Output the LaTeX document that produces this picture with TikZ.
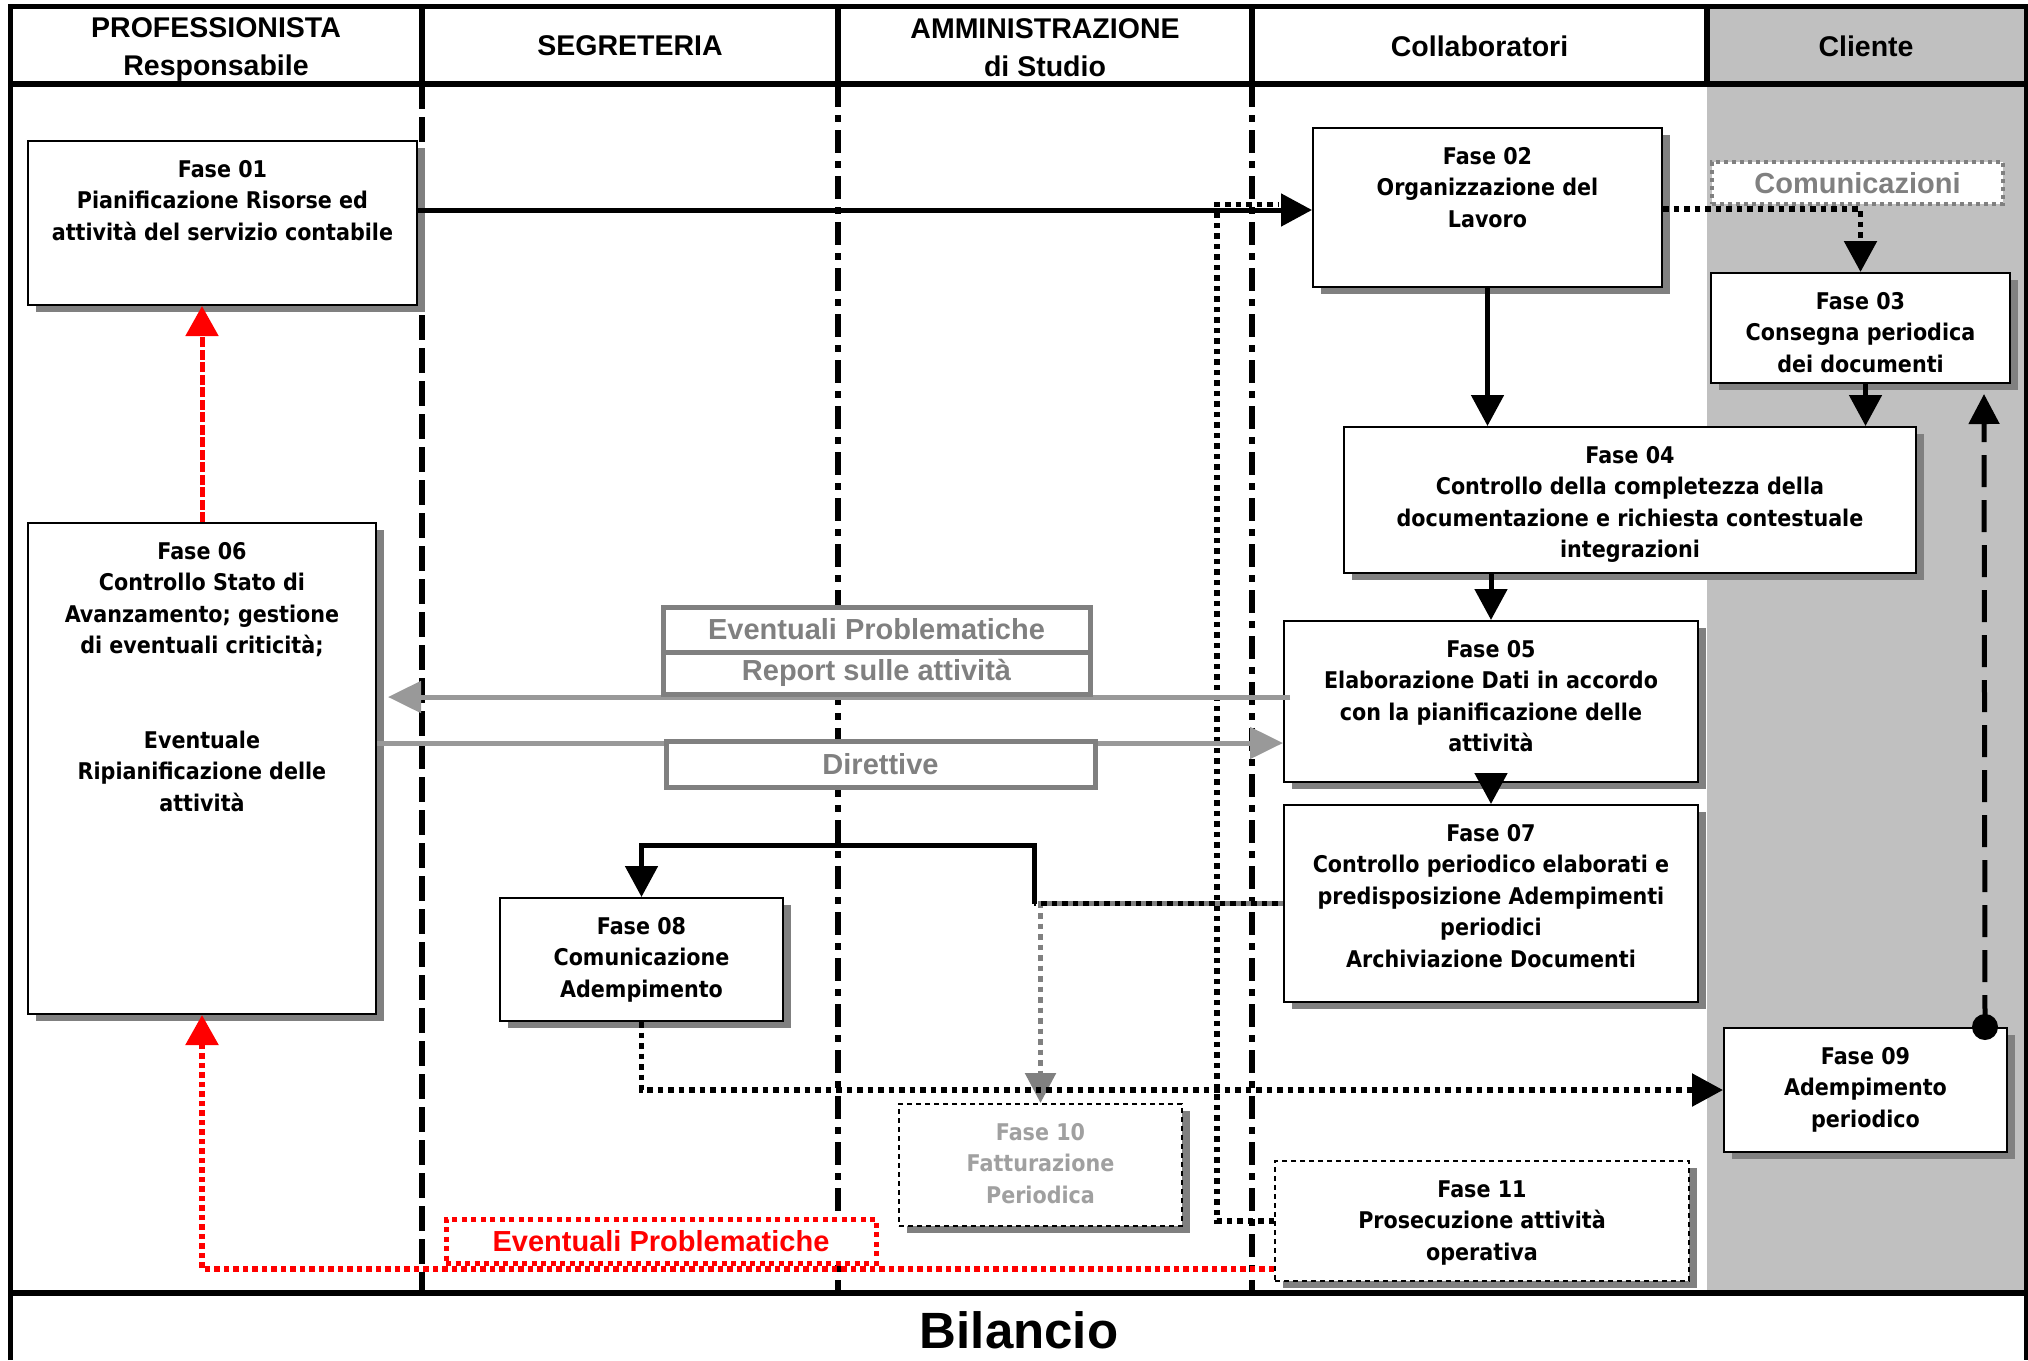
\documentclass[tikz,border=0pt]{standalone}
\usepackage{fontspec}
\setmainfont{Liberation Sans}
\IfFontExistsTF{DejaVu Sans Condensed Bold}
  {\newfontfamily\phasefont{DejaVu Sans Condensed Bold}}
  {\newfontfamily\phasefont[FakeStretch=0.9]{DejaVu Sans Bold}}
\usetikzlibrary{arrows.meta,calc,shadows}

\definecolor{shadowgray}{HTML}{808080}
\definecolor{clientgray}{HTML}{C0C0C0}
\definecolor{notegray}{HTML}{808080}
\definecolor{flowgray}{HTML}{999999}
\definecolor{fadedtext}{HTML}{A0A0A0}
\definecolor{alertred}{HTML}{FF0000}

% text of a phase box: fixed width and height, lines hanging from the top edge
\newcommand\phasetext[3]{\parbox[c][#2pt][t]{#1pt}{\centering\phasefont\fontsize{23}{31.5}\selectfont\rule{0pt}{36pt}#3}}

\begin{document}
\begin{tikzpicture}[x=1pt,y=-1pt,
  phase/.style={draw=black,line width=2pt,fill=white,inner sep=0pt,
    drop shadow={shadow xshift=8pt,shadow yshift=-7pt,fill=shadowgray,opacity=1}},
  dashphase/.style={phase,dash pattern=on 5pt off 4pt},
  lanehead/.style={font=\bfseries\fontsize{28.5}{38}\selectfont,align=center,inner sep=0pt},
  laneline/.style={line width=6pt},
  lanedash/.style={line width=6pt,dash pattern=on 25pt off 8pt},
  lanedashdot/.style={line width=6pt,dash pattern=on 23pt off 8pt on 7pt off 8pt},
  frame/.style={line width=5pt},
  tip/.style={-{Triangle[length=31pt,width=32pt]}},
  flow/.style={line width=5pt},
  dotflow/.style={line width=5.5pt,dash pattern=on 5.5pt off 5pt},
  grayflow/.style={line width=5pt,draw=flowgray,-{Triangle[length=33pt,width=31pt]}},
  graydots/.style={line width=5.5pt,draw=shadowgray,dash pattern=on 5.5pt off 5pt},
  returnflow/.style={line width=5pt,dash pattern=on 32pt off 13pt,-{Triangle[length=30pt,width=30pt]}},
  redflow/.style={line width=5pt,draw=alertred,dash pattern=on 10pt off 2.5pt,-{Triangle[length=30pt,width=32pt]}},
  reddots/.style={line width=5.5pt,draw=alertred,dash pattern=on 5.5pt off 4pt,-{Triangle[length=30pt,width=32pt]}},
  notebox/.style={draw=notegray,line width=5pt,fill=white,text=notegray,inner sep=0pt,
    font=\bfseries\fontsize{29}{34}\selectfont},
  dotnote/.style={notebox,line width=4pt,dash pattern=on 4pt off 4pt},
  rednote/.style={notebox,draw=alertred,text=alertred,dash pattern=on 5pt off 4.5pt},
  title/.style={font=\bfseries\fontsize{51}{51}\selectfont,inner sep=0pt}
]
\useasboundingbox (0,0) rectangle (2028,1360);
\fill[white] (0,0) rectangle (2028,1360);

% client lane background
\fill[clientgray] (1707,6.5) rectangle (2026,1293);

% lane separators: solid in the header, broken in the body
\draw[laneline] (422,6.5) -- (422,84);
\draw[laneline] (838,6.5) -- (838,84);
\draw[laneline] (1252,6.5) -- (1252,84);
\draw[laneline] (1707,6.5) -- (1707,84);
\draw[lanedash] (422,84) -- (422,1293);
\draw[lanedashdot] (838,84) -- (838,1293);
\draw[lanedashdot] (1252,84) -- (1252,1293);

% outer frame, header rule and footer rule
\draw[frame] (10,1360) -- (10,6.5) -- (2026,6.5) -- (2026,1360);
\draw[line width=6pt] (10,84) -- (2026,84);
\draw[line width=6pt] (10,1293) -- (2026,1293);

% lane titles
\node[lanehead] (h1) at (216,50) {PROFESSIONISTA\\Responsabile};
\node[lanehead] (h2) at (630,46) {SEGRETERIA};
\node[lanehead] (h3) at (1045,47.5) {AMMINISTRAZIONE\\di Studio};
\node[lanehead] (h4) at (1479.5,46) {Collaboratori};
\node[lanehead] (h5) at (1866,46) {Cliente};

% phases
\node[phase] (f01) at (222.5,223) {\phasetext{389}{164}{Fase 01\\Pianificazione Risorse ed\\attività del servizio contabile}};
\node[phase] (f02) at (1487.5,207.5) {\phasetext{349}{159}{Fase 02\\Organizzazione del\\Lavoro}};
\node[phase] (f03) at (1860.5,328) {\phasetext{299}{110}{Fase 03\\Consegna periodica\\dei documenti}};
\node[phase] (f04) at (1630,500) {\phasetext{572}{146}{Fase 04\\Controllo della completezza della\\documentazione e richiesta contestuale\\integrazioni}};
\node[phase] (f05) at (1491,701.5) {\phasetext{414}{161}{Fase 05\\Elaborazione Dati in accordo\\con la pianificazione delle\\attività}};
\node[phase] (f06) at (202,768.5) {\phasetext{348}{491}{Fase 06\\Controllo Stato di\\Avanzamento; gestione\\di eventuali criticità;\\\mbox{}\\\mbox{}\\Eventuale\\Ripianificazione delle\\attività}};
\node[phase] (f07) at (1491,903.5) {\phasetext{414}{197}{Fase 07\\Controllo periodico elaborati e\\predisposizione Adempimenti\\periodici\\Archiviazione Documenti}};
\node[phase] (f08) at (641.5,959.5) {\phasetext{283}{123}{Fase 08\\Comunicazione\\Adempimento}};
\node[phase] (f09) at (1865.5,1090) {\phasetext{283}{124}{Fase 09\\Adempimento\\periodico}};
\node[dashphase,text=fadedtext] (f10) at (1040.5,1165) {\phasetext{283}{122}{Fase 10\\Fatturazione\\Periodica}};
\node[dashphase] (f11) at (1482,1221) {\phasetext{414}{120}{Fase 11\\Prosecuzione attività\\operativa}};

% levels and bends of the connectors
\coordinate (repY) at (0,697);
\coordinate (dirY) at (0,743);
\coordinate (redY) at (0,1269);
\coordinate (loopX) at (1217,0);
\coordinate (knee) at (1034,845);
\coordinate (f09dot) at ($(f09.north east)+(-23,0)$);
\coordinate (back03) at (1984,394);

% planning to organisation, and the return from phase 11
\draw[dotflow] (f11.west) -| ($(loopX |- f02.west)+(0,-3)$) -- ($(f02.west)+(-33,-3)$);
\draw[flow,tip] ($(f01.east |- f02.west)+(0,2.5)$) -- ($(f02.west)+(0,2.5)$);

% collaborators and client
\draw[dotflow,tip] ($(f02.east)+(0,1.5)$) -| (f03.north);
\draw[flow,tip] (f02.south) -- (f02.south |- f04.north);
\draw[flow,tip] ($(f03.south)+(5,0)$) -- ($(f03.south |- f04.north)+(5,0)$);
\draw[flow,tip] (f05.north |- f04.south) -- (f05.north);
\draw[flow,tip] (f05.south) -- (f07.north);
\fill (f09dot) circle[radius=13pt];
\draw[returnflow] (f09dot) -- (back03);

% reporting between phase 05 and phase 06
\draw[grayflow] ($(f05.west |- repY)+(7,0)$) -- ($(f06.east |- repY)+(11,0)$);
\draw[grayflow] (f06.east |- dirY) -- (f05.west |- dirY);

% phase 07 towards invoicing and communication
\draw[graydots,-{Triangle[length=30pt,width=30pt,fill=notegray]}] (f07.west) -| (f10.north);
\draw[dotflow,dash phase=5.25pt] (f07.west) -- (knee |- f07.west);
\draw[flow,tip] (knee |- f07.west) -- (knee) -| (f08.north);
\draw[dotflow,tip] (f08.south) |- (f09.west);

% escalation of problems
\draw[redflow] (f06.north) -- (f06.north |- f01.south);
\draw[reddots] (f11.west |- redY) -| (f06.south);

% annotations
\node[notebox,minimum width=427pt,minimum height=45pt] (prob) at (876.5,629.5) {Eventuali Problematiche};
\node[notebox,minimum width=427pt,minimum height=42pt] (rep) at (876.5,673) {Report sulle attività};
\node[notebox,minimum width=429pt,minimum height=46pt] (dir) at (880.5,764) {Direttive};
\node[dotnote,minimum width=291pt,minimum height=42pt] (com) at (1857.5,183) {Comunicazioni};
\node[rednote,minimum width=430pt,minimum height=44pt] (redlab) at (661,1241) {Eventuali Problematiche};

% process name
\node[title] (bil) at (1019,1330) {Bilancio};
\end{tikzpicture}
\end{document}
